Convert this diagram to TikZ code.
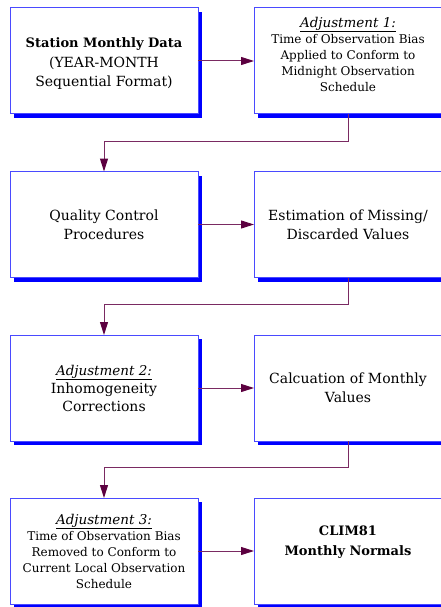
\documentclass[tikz,border=0pt]{standalone}
\usepackage{fontspec}
\setmainfont{DejaVu Serif}
\usetikzlibrary{arrows.meta,shadows}
\definecolor{boxline}{HTML}{4A4AFF}
\definecolor{shade}{HTML}{0000FF}
\definecolor{conn}{HTML}{7A2A62}
\definecolor{tipc}{HTML}{5C0040}
\newcommand{\adjlabel}[1]{{\fontsize{13.5}{16}\selectfont\underline{\textit{#1}}}}
\newcommand{\shifted}[3]{\raisebox{#1}[0pt][0pt]{#2\begin{tabular}{@{}c@{}}#3\end{tabular}}}
\begin{document}
\begin{tikzpicture}[x=1pt,y=-1pt,
  stepbox/.style={draw=boxline, line width=1pt, fill=white,
    minimum width=188pt, minimum height=106pt, inner sep=0pt, outer sep=0pt,
    align=center, font=\fontsize{14}{19}\selectfont,
    drop shadow={shadow xshift=4pt, shadow yshift=-4pt, fill=shade, opacity=1}},
  flow/.style={draw=conn, line width=1pt, -{Triangle[length=13pt,width=8pt,color=tipc]}}]
\useasboundingbox (0,0) rectangle (441,607);

\node[stepbox] (a) at (104,61) {\shifted{-6pt}{\fontsize{14}{19.5}\selectfont}{{\fontsize{13}{19}\selectfont\textbf{Station Monthly Data}}\\(YEAR-MONTH\\Sequential Format)}};
\node[stepbox] (b) at (348,61) {\shifted{2pt}{\fontsize{12}{16}\selectfont}{\adjlabel{Adjustment 1:}\\Time of Observation Bias\\Applied to Conform to\\Midnight Observation\\Schedule}};

\node[stepbox] (c) at (104,224.5) {Quality Control\\Procedures};
\node[stepbox] (d) at (348,224.5) {Estimation of Missing/\\Discarded Values};

\node[stepbox] (e) at (104,388) {\shifted{-5pt}{\fontsize{14}{18}\selectfont}{\adjlabel{Adjustment 2:}\\Inhomogeneity\\Corrections}};
\node[stepbox] (f) at (348,388) {Calcuation of Monthly\\Values};

\node[stepbox] (g) at (104,551) {\shifted{-5pt}{\fontsize{12}{16}\selectfont}{\adjlabel{Adjustment 3:}\\Time of Observation Bias\\Removed to Conform to\\Current Local Observation\\Schedule}};
\node[stepbox] (h) at (348,551) {\shifted{7pt}{\fontsize{13}{20}\selectfont}{\textbf{CLIM81}\\\textbf{Monthly Normals}}};

\draw[flow] (a.east) -- (b.west);
\draw[flow] (c.east) -- (d.west);
\draw[flow] (e.east) -- (f.west);
\draw[flow] (g.east) -- (h.west);

\draw[flow] (b.south) -- ++(0,27) -| (c.north);
\draw[flow] (d.south) -- ++(0,27) -| (e.north);
\draw[flow] (f.south) -- ++(0,26) -| (g.north);
\end{tikzpicture}
\end{document}
